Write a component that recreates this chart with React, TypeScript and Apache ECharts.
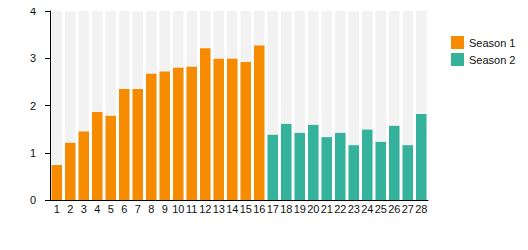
import React, { useEffect, useRef } from "react";
import * as echarts from "echarts";

const categories = Array.from({ length: 28 }, (_, i) => String(i + 1));
const season1 = [0.74, 1.21, 1.45, 1.86, 1.78, 2.35, 2.35, 2.67, 2.72, 2.8, 2.82, 3.21, 2.99, 2.99, 2.92, 3.27];
const season2 = [1.38, 1.61, 1.42, 1.59, 1.33, 1.42, 1.16, 1.49, 1.23, 1.57, 1.16, 1.82];
const backgroundMax = 4;

export default function App() {
  const ref = useRef<HTMLDivElement>(null);
  useEffect(() => {
    if (!ref.current) return;
    const chart = echarts.init(ref.current, undefined, { renderer: "svg" });
    const s1 = categories.map((_, i) => (i < season1.length ? season1[i] : "-"));
    const s2 = categories.map((_, i) => (i >= season1.length ? season2[i - season1.length] : "-"));
    chart.setOption({
      animation: false,
      textStyle: { fontFamily: "Liberation Sans, Arial, sans-serif" },
      grid: { left: 50, right: 100, top: 11, bottom: 50 },
      legend: {
        orient: "vertical",
        left: 446,
        top: 31,
        itemWidth: 13,
        itemHeight: 13,
        itemGap: 4,
        icon: "rect",
        textStyle: { fontSize: 11, color: "#111" },
        data: ["Season 1", "Season 2"],
      },
      xAxis: {
        type: "category",
        data: categories,
        axisLine: { lineStyle: { color: "#000", width: 1 } },
        axisTick: { show: false },
        axisLabel: { color: "#111", fontSize: 11, margin: 3, interval: 0 },
      },
      yAxis: {
        type: "value",
        min: 0,
        max: 4,
        interval: 1,
        splitLine: { show: false },
        axisLine: { show: true, lineStyle: { color: "#000", width: 1 } },
        axisTick: { show: true, length: 5, lineStyle: { color: "#000" } },
        axisLabel: { color: "#111", fontSize: 11, margin: 14 },
      },
      series: [
        {
          type: "bar",
          name: "bg",
          data: categories.map(() => backgroundMax),
          barWidth: 10.5,
          barGap: "-100%",
          itemStyle: { color: "#f2f2f2" },
          silent: true,
          z: 1,
        },
        {
          type: "bar",
          name: "Season 1",
          data: s1,
          barWidth: 10.5,
          barGap: "-100%",
          itemStyle: { color: "#f68b00" },
          z: 2,
        },
        {
          type: "bar",
          name: "Season 2",
          data: s2,
          barWidth: 10.5,
          barGap: "-100%",
          itemStyle: { color: "#35b29b" },
          z: 2,
        },
      ],
    });
    return () => chart.dispose();
  }, []);
  return <div ref={ref} style={{ width: 528, height: 250, margin: -8 }} />;
}
